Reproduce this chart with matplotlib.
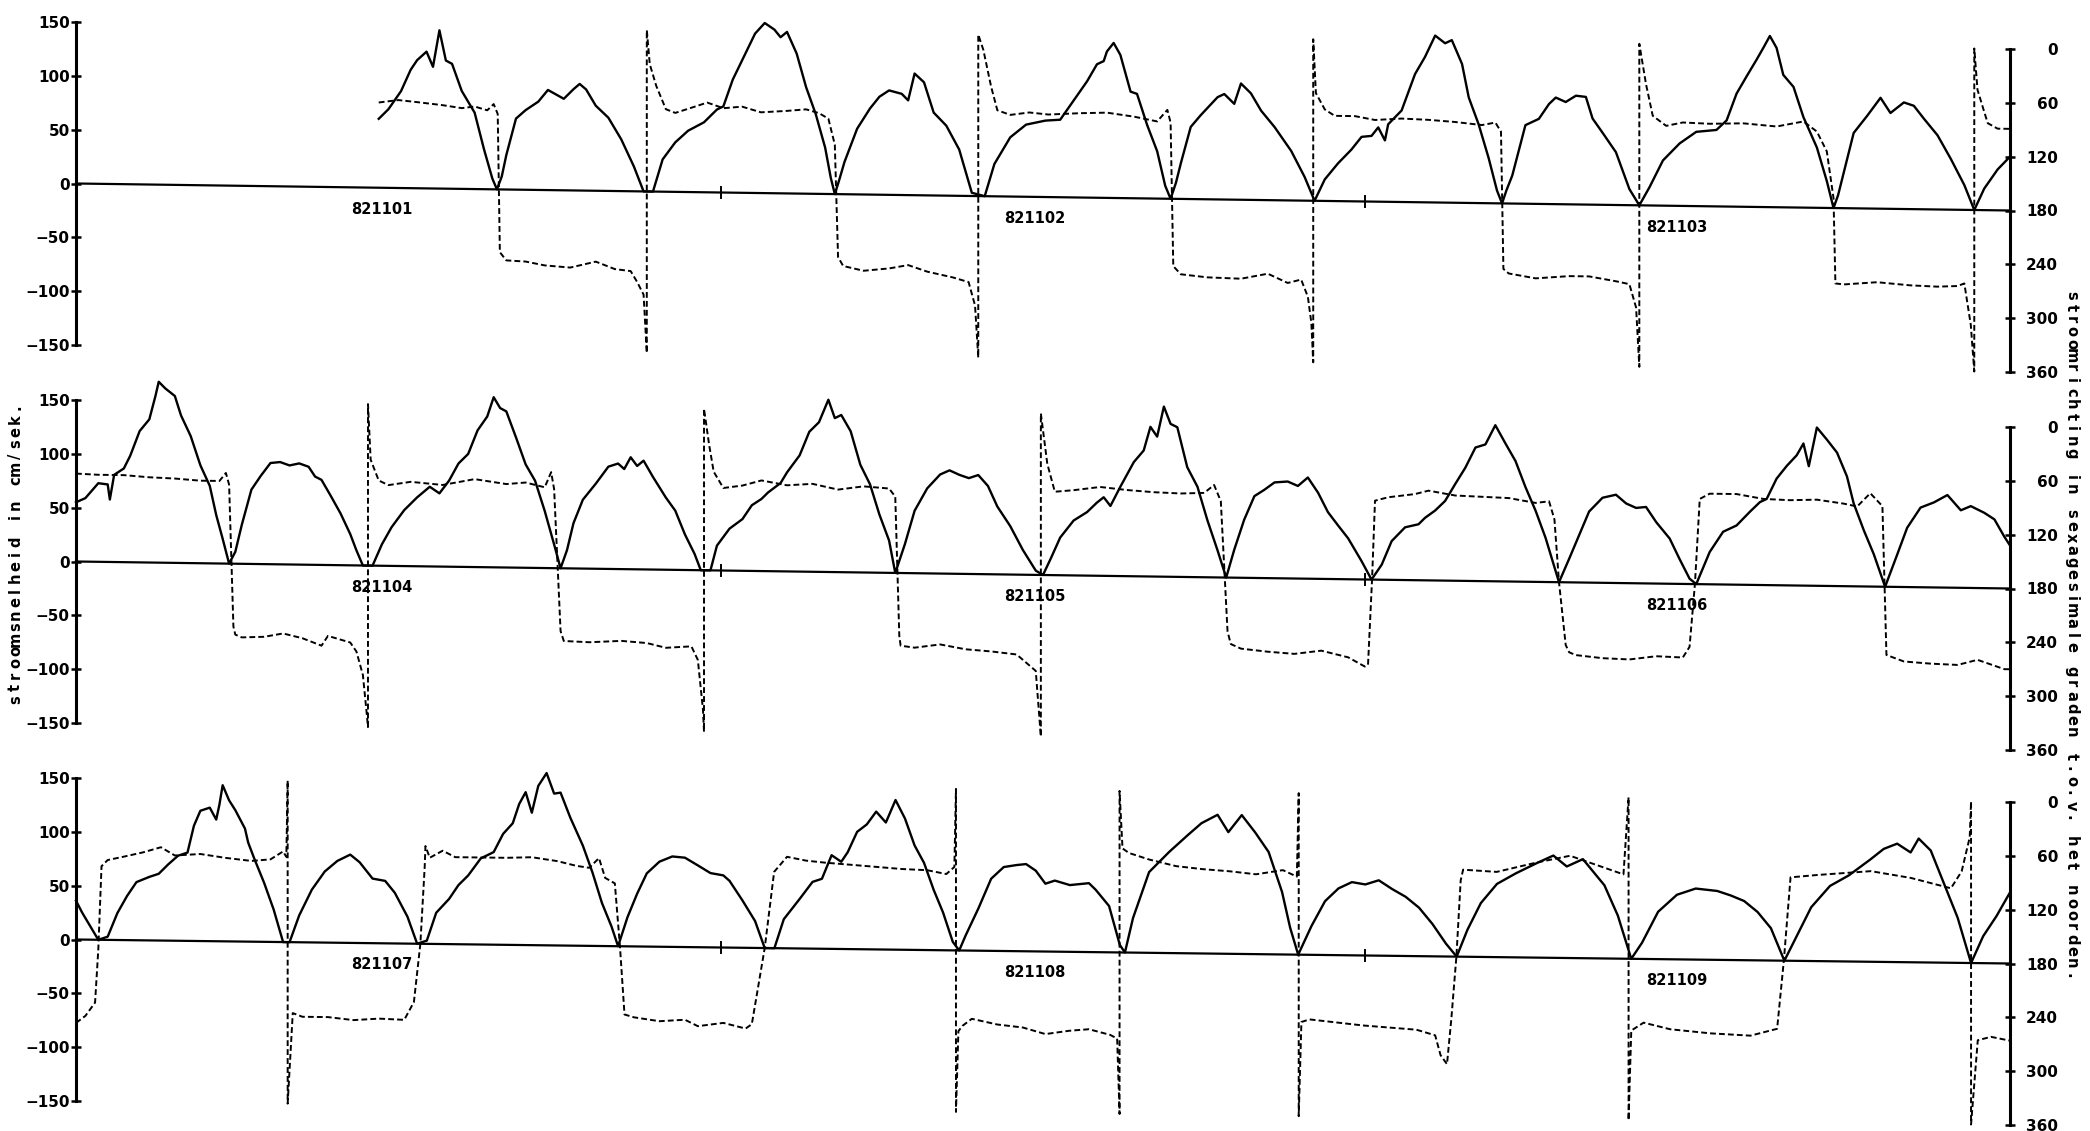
import numpy as np
import matplotlib.pyplot as plt
from matplotlib.transforms import Affine2D

# hours since the start of each 3-day strip
# speed in cm/s (left axis), direction in degrees (right axis, 0 at top)

top_speed_h = [11.27, 11.63, 12.1, 12.46, 12.7, 13.05, 13.29, 13.53, 13.77, 14.0,
               14.36, 14.84, 15.19, 15.5, 15.67, 15.85, 16.02, 16.38, 16.74, 17.21,
               17.57, 18.16, 18.52, 18.75, 18.99, 19.35, 19.82, 20.3, 20.77, 21.13,
               21.48, 21.84, 22.31, 22.79, 23.38, 23.86, 24.1, 24.45, 24.93, 25.28,
               25.64, 26.0, 26.23, 26.47, 26.83, 27.18, 27.54, 27.89, 28.1, 28.25,
               28.4, 28.61, 29.08, 29.56, 29.91, 30.27, 30.74, 30.98, 31.22, 31.57,
               31.93, 32.4, 32.88, 33.35, 33.83, 34.19, 34.78, 35.37, 36.09, 36.64,
               37.14, 37.64, 38.01, 38.26, 38.38, 38.63, 38.88, 39.26, 39.5, 39.88,
               40.25, 40.55, 40.75, 40.95, 41.13, 41.5, 41.87, 42.5, 42.75, 43.12,
               43.37, 43.74, 44.12, 44.62, 45.24, 45.74, 46.11, 46.49, 46.98, 47.48,
               47.86, 48.23, 48.48, 48.73, 48.85, 49.35, 49.85, 50.22, 50.6, 50.97,
               51.22, 51.6, 51.85, 52.22, 52.59, 52.9, 53.09, 53.25, 53.47, 53.96,
               54.46, 54.84, 55.09, 55.46, 55.84, 56.21, 56.46, 56.83, 57.33, 57.83,
               58.2, 58.58, 59.08, 59.7, 60.32, 61.07, 61.45, 61.82, 62.19, 62.57,
               62.82, 63.06, 63.31, 63.56, 63.94, 64.31, 64.81, 65.18, 65.43, 65.6,
               65.81, 66.18, 66.68, 67.18, 67.55, 68.05, 68.42, 68.8, 69.3, 69.8,
               70.3, 70.67, 71.04, 71.54, 72.0]
top_speed = [64, 73, 90, 110, 119, 127, 113, 147, 119, 116,
             91, 71, 37, 10, 0, 12, 32, 66, 74, 82,
             93, 85, 94, 99, 94, 79, 68, 48, 23, 0,
             0, 30, 46, 57, 65, 77, 80, 105, 130, 148,
             158, 152, 145, 150, 130, 99, 74, 43, 15, 0,
             12, 30, 61, 80, 91, 97, 94, 88, 113, 105,
             77, 65, 43, 3, 0, 30, 55, 67, 71, 72,
             90, 108, 124, 127, 136, 144, 133, 99, 97, 68,
             44, 12, 0, 15, 33, 67, 78, 95, 98, 89,
             108, 99, 83, 68, 46, 22, 0, 20, 35, 48,
             60, 61, 69, 57, 72, 85, 119, 135, 155, 148,
             151, 129, 98, 73, 42, 12, 0, 12, 26, 73,
             79, 93, 99, 95, 101, 100, 80, 67, 49, 15,
             0, 17, 42, 58, 69, 71, 80, 105, 121, 137,
             148, 159, 148, 123, 112, 84, 56, 25, 0, 12,
             33, 70, 86, 103, 89, 99, 96, 84, 69, 47,
             23, 0, 20, 38, 50]

top_dir_h = [11.27, 12.0, 12.7, 13.65, 14.36, 14.84, 15.31, 15.55, 15.7, 15.78,
             16.02, 16.74, 17.45, 18.4, 19.35, 20.06, 20.65, 20.89, 21.13, 21.25,
             21.25, 21.36, 21.6, 21.96, 22.31, 22.91, 23.5, 24.1, 24.8, 25.5,
             26.47, 27.18, 27.66, 28.01, 28.25, 28.37, 28.56, 29.32, 30.27, 30.98,
             31.69, 32.64, 33.23, 33.47, 33.59, 33.59, 33.78, 34.07, 34.3, 34.78,
             35.49, 36.2, 37.39, 38.38, 39.38, 40.25, 40.63, 40.75, 40.85, 41.13,
             42.12, 43.37, 44.37, 45.11, 45.61, 45.86, 45.99, 46.06, 46.06, 46.16,
             46.49, 46.86, 47.61, 48.36, 49.35, 50.35, 51.35, 52.34, 52.84, 53.05,
             53.14, 53.34, 54.34, 55.59, 56.33, 57.33, 57.83, 58.08, 58.2, 58.2,
             58.45, 58.7, 59.2, 59.82, 60.82, 62.07, 63.31, 64.31, 64.81, 65.18,
             65.43, 65.5, 65.81, 67.05, 68.3, 69.3, 70.05, 70.3, 70.54, 70.67,
             70.67, 70.79, 71.17, 71.54, 72.0]
top_dir = [85, 82, 84, 87, 90, 88, 92, 85, 96, 250,
           259, 260, 264, 266, 259, 267, 269, 281, 295, 360,
           0, 38, 62, 88, 92, 86, 80, 86, 84, 90,
           88, 86, 90, 96, 125, 250, 260, 265, 262, 258,
           265, 271, 276, 302, 360, 0, 17, 58, 84, 89,
           86, 88, 86, 85, 89, 94, 81, 95, 255, 264,
           267, 268, 262, 272, 268, 287, 316, 360, 0, 60,
           78, 85, 85, 89, 87, 88, 90, 93, 90, 100,
           253, 258, 263, 260, 260, 265, 268, 294, 360, 0,
           45, 80, 91, 87, 88, 87, 90, 84, 95, 117,
           169, 264, 265, 262, 265, 266, 265, 262, 308, 360,
           0, 46, 83, 89, 89]

mid_speed_h = [0.0, 0.35, 0.83, 1.18, 1.26, 1.42, 1.78, 2.02, 2.37, 2.73,
               2.96, 3.08, 3.32, 3.68, 3.91, 4.27, 4.63, 4.98, 5.22, 5.46,
               5.7, 5.93, 6.17, 6.53, 6.88, 7.24, 7.6, 7.95, 8.31, 8.66,
               8.9, 9.14, 9.49, 9.85, 10.21, 10.44, 10.68, 11.04, 11.39, 11.75,
               12.22, 12.7, 13.17, 13.53, 13.89, 14.24, 14.6, 14.95, 15.31, 15.55,
               15.79, 16.02, 16.38, 16.74, 17.09, 17.45, 17.8, 18.04, 18.28, 18.52,
               18.87, 19.35, 19.82, 20.18, 20.41, 20.65, 20.89, 21.13, 21.48, 21.96,
               22.31, 22.67, 23.03, 23.26, 23.62, 23.86, 24.33, 24.81, 25.16, 25.52,
               25.76, 26.23, 26.47, 26.94, 27.3, 27.66, 28.01, 28.25, 28.49, 28.84,
               29.2, 29.56, 29.91, 30.27, 30.5, 30.86, 31.22, 31.69, 32.17, 32.52,
               32.88, 33.24, 33.59, 33.95, 34.3, 34.78, 35.25, 35.73, 36.0, 36.3,
               36.64, 37.14, 37.64, 38.01, 38.26, 38.51, 38.88, 39.38, 39.75, 40.0,
               40.25, 40.5, 40.75, 41.0, 41.37, 41.75, 42.12, 42.5, 42.82, 43.12,
               43.49, 43.87, 44.24, 44.62, 45.11, 45.49, 45.86, 46.24, 46.61, 46.98,
               47.36, 47.86, 48.23, 48.61, 48.98, 49.48, 49.98, 50.22, 50.6, 50.97,
               51.35, 51.72, 52.1, 52.47, 52.84, 53.22, 53.59, 53.96, 54.34, 54.71,
               55.21, 55.59, 55.96, 56.33, 56.83, 57.33, 57.71, 58.08, 58.45, 58.83,
               59.33, 59.7, 60.07, 60.32, 60.82, 61.32, 61.82, 62.32, 62.69, 62.94,
               63.31, 63.69, 64.06, 64.31, 64.51, 64.81, 65.18, 65.56, 65.93, 66.18,
               66.56, 66.93, 67.35, 67.8, 68.17, 68.67, 69.17, 69.67, 70.17, 70.54,
               71.04, 71.42, 71.79, 72.0]
mid_speed = [55, 59, 73, 72, 58, 81, 87, 99, 122, 133,
             155, 168, 162, 155, 137, 118, 91, 72, 45, 23,
             0, 11, 36, 69, 82, 94, 95, 92, 94, 91,
             82, 79, 64, 48, 29, 14, 0, 0, 20, 36,
             52, 64, 74, 68, 80, 96, 105, 127, 140, 158,
             148, 145, 121, 96, 81, 53, 22, 0, 17, 42,
             64, 79, 95, 98, 93, 104, 96, 101, 86, 67,
             55, 33, 15, 0, 0, 23, 39, 48, 61, 67,
             73, 82, 92, 108, 130, 139, 160, 143, 146, 131,
             100, 82, 54, 30, 0, 27, 58, 79, 92, 96,
             92, 89, 92, 82, 63, 45, 23, 4, 0, 16,
             35, 51, 59, 68, 73, 65, 83, 106, 117, 139,
             130, 158, 142, 139, 102, 84, 53, 25, 0, 26,
             54, 76, 82, 89, 90, 86, 94, 80, 62, 50,
             38, 17, 0, 14, 36, 49, 52, 58, 65, 74,
             90, 105, 124, 127, 145, 128, 112, 88, 66, 41,
             0, 22, 44, 66, 79, 82, 74, 70, 71, 57,
             42, 23, 5, 0, 30, 49, 55, 68, 77, 80,
             99, 111, 121, 132, 111, 147, 136, 124, 102, 77,
             52, 30, 0, 30, 55, 74, 79, 86, 72, 76,
             70, 64, 48, 40]

mid_dir_h = [0.0, 0.83, 1.78, 2.73, 3.68, 4.63, 5.34, 5.58, 5.7, 5.86,
             5.93, 6.17, 7.0, 7.71, 8.43, 9.14, 9.38, 10.21, 10.44, 10.68,
             10.8, 10.87, 10.87, 10.97, 11.27, 11.63, 12.46, 13.65, 14.84, 16.02,
             16.74, 17.45, 17.69, 17.8, 18.04, 18.16, 19.11, 20.3, 21.25, 21.96,
             22.91, 23.15, 23.34, 23.38, 23.38, 23.57, 23.74, 24.1, 24.81, 25.52,
             26.47, 27.42, 28.37, 29.32, 30.27, 30.5, 30.65, 30.7, 31.22, 32.17,
             33.12, 34.07, 35.02, 35.73, 35.92, 35.92, 36.16, 36.44, 37.14, 38.13,
             39.13, 40.13, 41.13, 42.0, 42.37, 42.62, 42.87, 42.99, 43.37, 44.37,
             45.36, 46.36, 47.36, 47.98, 48.1, 48.25, 48.36, 48.85, 49.85, 50.35,
             51.35, 52.34, 53.34, 54.34, 54.84, 55.04, 55.21, 55.46, 55.59, 55.84,
             56.83, 57.83, 58.83, 59.82, 60.07, 60.27, 60.45, 60.82, 61.82, 62.82,
             63.81, 64.81, 65.81, 66.31, 66.8, 67.18, 67.25, 67.4, 68.05, 69.05,
             70.05, 70.79, 71.29, 71.79, 72.0]
mid_dir = [82, 83, 83, 85, 86, 88, 88, 79, 92, 250,
           259, 262, 261, 257, 262, 270, 259, 266, 276, 302,
           338, 360, 0, 62, 85, 90, 86, 89, 82, 87,
           85, 90, 73, 92, 250, 261, 262, 260, 262, 267,
           265, 280, 335, 360, 0, 40, 70, 88, 85, 79,
           84, 82, 88, 84, 86, 95, 250, 261, 263, 259,
           264, 266, 269, 287, 360, 0, 56, 87, 85, 81,
           84, 86, 87, 86, 77, 95, 240, 254, 259, 262,
           264, 260, 267, 277, 275, 180, 92, 88, 84, 80,
           85, 86, 87, 92, 90, 110, 180, 250, 258, 261,
           264, 265, 261, 262, 250, 180, 85, 79, 79, 84,
           85, 84, 88, 91, 76, 88, 90, 256, 263, 265,
           266, 260, 265, 270, 270]

bot_speed_h = [0.0, 0.23, 0.47, 0.83, 1.18, 1.54, 1.9, 2.25, 2.73, 3.08,
               3.44, 3.8, 4.15, 4.39, 4.63, 4.98, 5.22, 5.34, 5.46, 5.7,
               5.93, 6.29, 6.41, 6.64, 7.0, 7.36, 7.71, 7.95, 8.31, 8.78,
               9.26, 9.73, 10.21, 10.56, 11.04, 11.51, 11.87, 12.34, 12.7, 13.06,
               13.41, 13.89, 14.24, 14.6, 15.07, 15.55, 15.9, 16.26, 16.5, 16.74,
               16.97, 17.21, 17.52, 17.8, 18.04, 18.4, 18.87, 19.23, 19.58, 19.94,
               20.18, 20.53, 20.89, 21.25, 21.72, 22.2, 22.67, 23.15, 23.62, 24.1,
               24.33, 24.81, 25.28, 25.64, 26.0, 26.35, 26.94, 27.42, 27.77, 28.13,
               28.49, 28.73, 29.08, 29.44, 29.79, 30.15, 30.51, 30.86, 31.22, 31.57,
               31.93, 32.28, 32.64, 32.88, 33.12, 33.59, 34.07, 34.54, 35.02, 35.37,
               35.73, 36.09, 36.44, 37.0, 37.71, 37.96, 38.46, 38.86, 39.05, 39.35,
               39.95, 40.7, 41.4, 41.9, 42.5, 42.9, 43.4, 43.9, 44.4, 44.9,
               45.2, 45.5, 46.0, 46.5, 47.0, 47.5, 48.0, 48.5, 49.0, 49.5,
               50.0, 50.5, 51.0, 51.4, 51.8, 52.3, 52.9, 53.6, 54.4, 55.0,
               55.5, 56.1, 56.9, 57.4, 57.9, 58.3, 58.9, 59.6, 60.3, 61.1,
               61.6, 62.1, 62.6, 63.1, 63.6, 64.0, 64.6, 65.3, 66.0, 66.8,
               67.3, 67.8, 68.3, 68.6, 69.05, 69.55, 70.05, 70.55, 71.0, 71.5,
               72.0]
bot_speed = [36, 25, 15, 0, 3, 25, 41, 54, 59, 62,
             71, 79, 82, 107, 121, 124, 113, 127, 145, 131,
             122, 105, 92, 77, 55, 30, 0, 0, 25, 49,
             66, 76, 82, 75, 60, 58, 47, 25, 0, 3,
             29, 42, 55, 64, 80, 86, 103, 113, 131, 142,
             123, 148, 160, 141, 142, 119, 93, 68, 40, 18,
             0, 27, 49, 68, 79, 84, 83, 76, 69, 67,
             62, 44, 25, 0, 0, 27, 46, 62, 65, 87,
             81, 90, 109, 116, 128, 118, 139, 122, 97, 81,
             56, 35, 8, 0, 14, 39, 67, 78, 80, 81,
             75, 63, 66, 62, 64, 58, 43, 7, 0, 32,
             75, 94, 110, 121, 129, 113, 129, 113, 95, 58,
             25, 0, 27, 50, 62, 68, 66, 70, 62, 55,
             45, 30, 12, 0, 25, 50, 68, 78, 88, 95,
             85, 92, 68, 40, 0, 15, 44, 60, 66, 64,
             60, 55, 45, 30, 0, 20, 50, 70, 80, 95,
             105, 110, 102, 115, 104, 73, 42, 0, 25, 44,
             66]

bot_dir_h = [0.0, 0.35, 0.71, 0.83, 0.95, 1.18, 1.78, 2.49, 3.16, 3.68,
             4.63, 5.58, 6.53, 7.24, 7.71, 7.83, 7.88, 7.88, 8.07, 8.43,
             9.38, 10.33, 11.28, 12.22, 12.58, 12.82, 12.98, 13.01, 13.17, 13.65,
             14.12, 15.07, 16.02, 16.97, 17.92, 18.63, 19.11, 19.47, 19.7, 20.06,
             20.25, 20.42, 20.77, 21.72, 22.67, 23.15, 24.1, 24.93, 25.16, 25.64,
             25.99, 26.47, 27.18, 27.89, 28.85, 29.79, 30.74, 31.69, 32.4, 32.7,
             32.76, 32.76, 32.85, 33.0, 33.35, 34.3, 35.25, 36.09, 36.97, 37.71,
             38.5, 38.76, 38.85, 38.85, 38.96, 39.2, 39.95, 40.95, 41.94, 42.94,
             43.93, 44.93, 45.45, 45.52, 45.52, 45.62, 45.92, 47.91, 49.9, 50.6,
             50.8, 51.04, 51.2, 51.39, 51.55, 51.64, 52.89, 54.38, 55.62, 57.61,
             57.8, 57.8, 57.9, 58.36, 59.35, 60.85, 62.34, 63.33, 63.58, 63.83,
             64.83, 66.82, 68.31, 69.8, 70.2, 70.5, 70.55, 70.55, 70.8, 71.29,
             72.0]
bot_dir = [273, 265, 250, 191, 98, 91, 87, 82, 76, 85,
           83, 87, 90, 88, 79, 85, 0, 360, 259, 263,
           263, 266, 264, 265, 245, 180, 95, 71, 84, 76,
           83, 83, 83, 82, 86, 91, 93, 82, 104, 110,
           180, 256, 259, 263, 261, 268, 264, 270, 265, 180,
           95, 78, 82, 84, 86, 88, 90, 91, 95, 87,
           0, 360, 270, 264, 256, 262, 265, 272, 268, 266,
           272, 276, 360, 0, 64, 69, 76, 83, 86, 88,
           91, 86, 93, 0, 360, 255, 252, 258, 262, 268,
           290, 300, 250, 180, 95, 83, 85, 74, 66, 86,
           0, 360, 260, 251, 258, 262, 264, 256, 180, 87,
           84, 79, 86, 97, 78, 40, 0, 360, 266, 262,
           266]

dates = [['821101', '821102', '821103'],
         ['821104', '821105', '821106'],
         ['821107', '821108', '821109']]
date_h = [11.4, 35.7, 59.6]

speed_ticks = [-150, -100, -50, 0, 50, 100, 150]
dir_ticks = [0, 60, 120, 180, 240, 300, 360]

left_title = 'stroomsnelheid in cm/sek.'
right_title = 'stroomrichting in sexagesimale graden t.o.v. het noorden.'

W, H = 2090, 1131
fig = plt.figure(figsize=(W / 100, H / 100), dpi=100)

# the scanned sheet is slightly skewed: the right axis of each strip sits
# a few pixels lower than the left one
x_left, x_right = 76, 2010
panel_tops = [22, 400, 778]
panel_drop = [27, 27, 24]
panel_h = 323


def tilted(ax, pivot_px, tilt):
    shear = (Affine2D().translate(-pivot_px, 0)
             .skew(0, -np.arctan(tilt)).translate(pivot_px, 0))
    return ax.transData + shear


def plotter_text(text, x_px, y0_px, pitch, rotation):
    # fixed-pitch lettering, one glyph at a time, like the pen plotter
    step = -pitch if rotation == 90 else pitch
    for k, ch in enumerate(text):
        if ch == ' ':
            continue
        fig.text(x_px / W, 1 - (y0_px + k * step) / H, ch, rotation=rotation,
                 rotation_mode='anchor', ha='center', va='baseline',
                 fontsize=10.5, fontweight='bold')


panels = [(top_speed_h, top_speed, top_dir_h, top_dir),
          (mid_speed_h, mid_speed, mid_dir_h, mid_dir),
          (bot_speed_h, bot_speed, bot_dir_h, bot_dir)]

for i, (sh, sv, dh, dv) in enumerate(panels):
    tilt = panel_drop[i] / (x_right - x_left)
    rect = [x_left / W, 1 - (panel_tops[i] + panel_h) / H,
            (x_right - x_left) / W, panel_h / H]
    ax = fig.add_axes(rect)
    axr = fig.add_axes([rect[0], rect[1] - panel_drop[i] / H, rect[2], rect[3]])
    for a in (ax, axr):
        a.patch.set_visible(False)
        a.set_xlim(0, 72)
        a.set_xticks([])
        for s in a.spines.values():
            s.set_visible(False)
    ax.set_ylim(-150, 150)
    axr.set_ylim(360, 0)

    ax.spines['left'].set_visible(True)
    ax.spines['left'].set_linewidth(2.2)
    ax.set_yticks(speed_ticks)
    ax.tick_params(axis='y', direction='inout', length=7, width=1.8, pad=1,
                   labelsize=11)
    for lbl in ax.get_yticklabels():
        lbl.set_fontweight('bold')

    axr.spines['right'].set_visible(True)
    axr.spines['right'].set_linewidth(2.2)
    axr.yaxis.tick_right()
    axr.set_yticks(dir_ticks)
    axr.tick_params(axis='y', direction='inout', length=7, width=1.8, pad=31,
                    labelsize=11)
    for lbl in axr.get_yticklabels():
        lbl.set_fontweight('bold')
        lbl.set_horizontalalignment('right')

    tr = tilted(ax, x_left, tilt)
    trr = tilted(axr, x_right, tilt)

    ax.plot([0, 72], [0, 0], color='black', lw=1.6, transform=tr, clip_on=False)
    for d in (24, 48):
        ax.plot([d, d], [-5, 5], color='black', lw=1.4, transform=tr, clip_on=False)
    for h, s in zip(date_h, dates[i]):
        ax.text(h, -20, s, transform=tr, ha='center', va='center',
                fontsize=10.5, fontweight='bold')

    ax.plot(sh, sv, color='black', lw=1.7, transform=tr, clip_on=False)
    axr.plot(dh, dv, color='black', lw=1.4, linestyle=(0, (3, 1.6)),
             transform=trr, clip_on=False)

plotter_text(left_title, 20, 700, 12.2, 90)
plotter_text(right_title, 2067, 295, 12.15, -90)

fig.savefig('out.png', dpi=100)
